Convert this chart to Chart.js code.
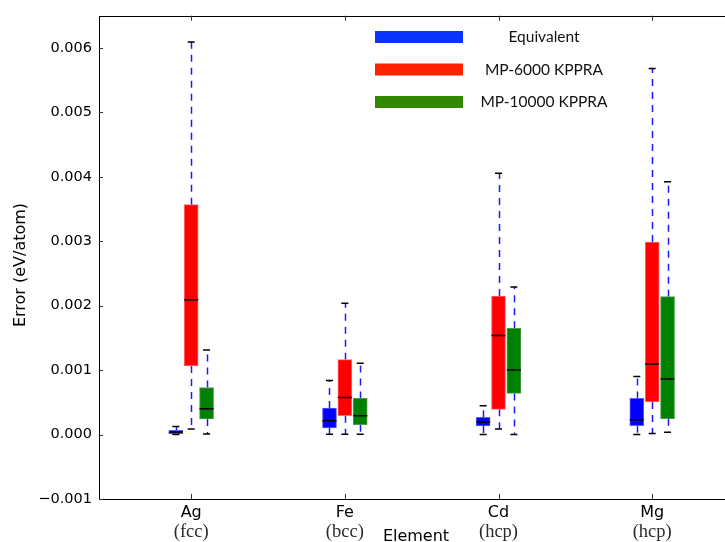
<!DOCTYPE html>
<html>
<head>
<meta charset="utf-8">
<script src="https://cdn.jsdelivr.net/npm/chart.js@4.4.1/dist/chart.umd.min.js"></script>
<style>
    html, body { margin: 0; padding: 0; background: #fff; overflow: hidden; }
    canvas { display: block; }
</style>
</head>
<body>
<canvas id="boxChart" width="730" height="542"></canvas>
<script>
// ==========================================
// DATOS
// ==========================================
const categorias = ['Ag', 'Fe', 'Cd', 'Mg'];
const fases = ['(fcc)', '(bcc)', '(hcp)', '(hcp)'];
const series = ['Equivalent', 'MP-6000 KPPRA', 'MP-10000 KPPRA'];
const yTicks = [-0.001, 0, 0.001, 0.002, 0.003, 0.004, 0.005, 0.006];

// Equivalent
const equivMin = [0.000000, 0.000005, 0.000000, 0.000000];
const equivQ1  = [0.000010, 0.000103, 0.000133, 0.000138];
const equivMed = [0.000035, 0.000215, 0.000195, 0.000231];
const equivQ3  = [0.000066, 0.000412, 0.000268, 0.000561];
const equivMax = [0.000126, 0.000840, 0.000447, 0.000900];

// MP-6000 KPPRA
const mp6000Min = [0.000087, 0.000005, 0.000088, 0.000015];
const mp6000Q1  = [0.001064, 0.000293, 0.000391, 0.000505];
const mp6000Med = [0.002093, 0.000576, 0.001538, 0.001095];
const mp6000Q3  = [0.003568, 0.001162, 0.002150, 0.002988];
const mp6000Max = [0.006093, 0.002036, 0.004057, 0.005680];

// MP-10000 KPPRA
const mp10000Min = [0.000010, 0.000005, 0.000000, 0.000036];
const mp10000Q1  = [0.000242, 0.000154, 0.000638, 0.000247];
const mp10000Med = [0.000401, 0.000293, 0.001003, 0.000864];
const mp10000Q3  = [0.000730, 0.000561, 0.001650, 0.002140];
const mp10000Max = [0.001312, 0.001106, 0.002289, 0.003924];

const estadisticas = [
    { min: equivMin, q1: equivQ1, med: equivMed, q3: equivQ3, max: equivMax },
    { min: mp6000Min, q1: mp6000Q1, med: mp6000Med, q3: mp6000Q3, max: mp6000Max },
    { min: mp10000Min, q1: mp10000Q1, med: mp10000Med, q3: mp10000Q3, max: mp10000Max }
];

// Estilo
const coloresCaja = ['#0000ff', '#ff0000', '#008000'];
const bordesCaja = ['#5c5cff', '#ff6a6a', '#4a9c4a'];
const coloresLeyenda = ['#0a33ff', '#ff2200', '#338800'];
const desplazamiento = [-0.1, 0, 0.1]; // posición de cada caja dentro del grupo

// ==========================================
// PLUGIN: bigotes, medianas, marco y leyenda
// ==========================================
const cajasPlugin = {
    id: 'cajas',
    beforeDatasetsDraw(chart) {
        const ctx = chart.ctx;
        const y = chart.scales.y;
        ctx.save();
        ctx.strokeStyle = '#1a1aff';
        ctx.lineWidth = 1.5;
        ctx.setLineDash([7, 6]);
        chart.data.datasets.forEach((ds, d) => {
            const s = estadisticas[d];
            chart.getDatasetMeta(d).data.forEach((bar, i) => {
                const x = Math.round(bar.x) + 0.5;
                ctx.beginPath();
                ctx.moveTo(x, y.getPixelForValue(s.q3[i]));
                ctx.lineTo(x, y.getPixelForValue(s.max[i]));
                ctx.moveTo(x, y.getPixelForValue(s.q1[i]));
                ctx.lineTo(x, y.getPixelForValue(s.min[i]));
                ctx.stroke();
            });
        });
        ctx.restore();
    },
    afterDatasetsDraw(chart) {
        const ctx = chart.ctx;
        const y = chart.scales.y;
        ctx.save();
        ctx.strokeStyle = '#000';
        ctx.lineWidth = 1.5;
        chart.data.datasets.forEach((ds, d) => {
            const s = estadisticas[d];
            chart.getDatasetMeta(d).data.forEach((bar, i) => {
                const w = bar.width;
                // mediana
                const ym = y.getPixelForValue(s.med[i]);
                ctx.beginPath();
                ctx.moveTo(bar.x - w / 2, ym);
                ctx.lineTo(bar.x + w / 2, ym);
                // topes
                [s.min[i], s.max[i]].forEach(v => {
                    const yc = y.getPixelForValue(v);
                    ctx.moveTo(bar.x - w / 4, yc);
                    ctx.lineTo(bar.x + w / 4, yc);
                });
                ctx.stroke();
            });
        });
        ctx.restore();
    },
    afterDraw(chart) {
        const ctx = chart.ctx;
        const area = chart.chartArea;
        const x = chart.scales.x;
        const y = chart.scales.y;
        ctx.save();

        // marco
        ctx.strokeStyle = '#000';
        ctx.lineWidth = 1;
        ctx.strokeRect(Math.round(area.left) + 0.5, Math.round(area.top) + 0.5,
            Math.round(area.right - area.left), Math.round(area.bottom - area.top));

        // marcas hacia dentro
        ctx.strokeStyle = '#333';
        ctx.beginPath();
        yTicks.forEach(v => {
            const py = Math.round(y.getPixelForValue(v)) + 0.5;
            ctx.moveTo(area.left, py); ctx.lineTo(area.left + 4, py);
            ctx.moveTo(area.right, py); ctx.lineTo(area.right - 4, py);
        });
        categorias.forEach((c, i) => {
            const px = Math.round(x.getPixelForValue(i + 1)) + 0.5;
            ctx.moveTo(px, area.bottom); ctx.lineTo(px, area.bottom - 5);
            ctx.moveTo(px, area.top); ctx.lineTo(px, area.top + 5);
        });
        ctx.stroke();

        // fases bajo cada elemento
        ctx.fillStyle = '#2a2a2a';
        ctx.font = '18.5px "Liberation Serif"';
        ctx.textAlign = 'center';
        ctx.textBaseline = 'alphabetic';
        fases.forEach((f, i) => {
            ctx.fillText(f, x.getPixelForValue(i + 1), 537);
        });

        // títulos de ejes
        ctx.fillStyle = '#000';
        ctx.font = '16px "DejaVu Sans"';
        ctx.fillText('Element', (area.left + 725) / 2 + 4, 541);
        ctx.save();
        ctx.translate(21, 265);
        ctx.rotate(-Math.PI / 2);
        ctx.textBaseline = 'middle';
        ctx.fillText('Error (eV/atom)', 0, 0);
        ctx.restore();

        // leyenda
        ctx.font = '15.5px Lato';
        ctx.textBaseline = 'middle';
        series.forEach((nombre, k) => {
            const yl = 37 + 32.5 * k;
            ctx.fillStyle = coloresLeyenda[k];
            ctx.fillRect(375, yl - 6, 88, 12);
            ctx.fillStyle = '#111';
            ctx.fillText(nombre, 544, yl);
        });
        ctx.restore();
    }
};

// ==========================================
// GRÁFICO: CAJAS FLOTANTES (Q1 - Q3)
// ==========================================
const ctxCajas = document.getElementById('boxChart');

new Chart(ctxCajas, {
    type: 'bar',
    data: {
        datasets: series.map((nombre, d) => ({
            label: nombre,
            data: categorias.map((c, i) => ({
                x: i + 1 + desplazamiento[d],
                y: [estadisticas[d].q1[i], estadisticas[d].q3[i]]
            })),
            backgroundColor: coloresCaja[d],
            borderColor: bordesCaja[d],
            borderWidth: 1,
            borderSkipped: false,
            barThickness: 14,
            grouped: false
        }))
    },
    options: {
        responsive: false,
        animation: false,
        layout: { padding: { top: 13, right: 1, left: 0, bottom: 0 } },
        plugins: {
            legend: { display: false },
            tooltip: { enabled: false }
        },
        scales: {
            x: {
                type: 'linear',
                min: 0.4,
                max: 4.5,
                offset: false,
                grid: { display: false, drawTicks: false },
                border: { display: false },
                afterBuildTicks: (s) => { s.ticks = categorias.map((c, i) => ({ value: i + 1 })); },
                afterFit: (s) => { s.height = 43; },
                ticks: {
                    padding: 4,
                    color: '#000',
                    font: { family: 'DejaVu Sans', size: 16 },
                    callback: (v) => categorias[Math.round(v) - 1]
                }
            },
            y: {
                min: -0.001,
                max: 0.0065,
                grid: { display: false, drawTicks: false },
                border: { display: false },
                afterBuildTicks: (s) => { s.ticks = yTicks.map(v => ({ value: v })); },
                afterFit: (s) => { s.width = 99; },
                ticks: {
                    padding: 7,
                    color: '#000',
                    font: { family: 'DejaVu Sans', size: 14.5 },
                    callback: (v) => (v < 0 ? '\u2212' : '') + Math.abs(v).toFixed(3)
                }
            }
        }
    },
    plugins: [cajasPlugin]
});
</script>
</body>
</html>
